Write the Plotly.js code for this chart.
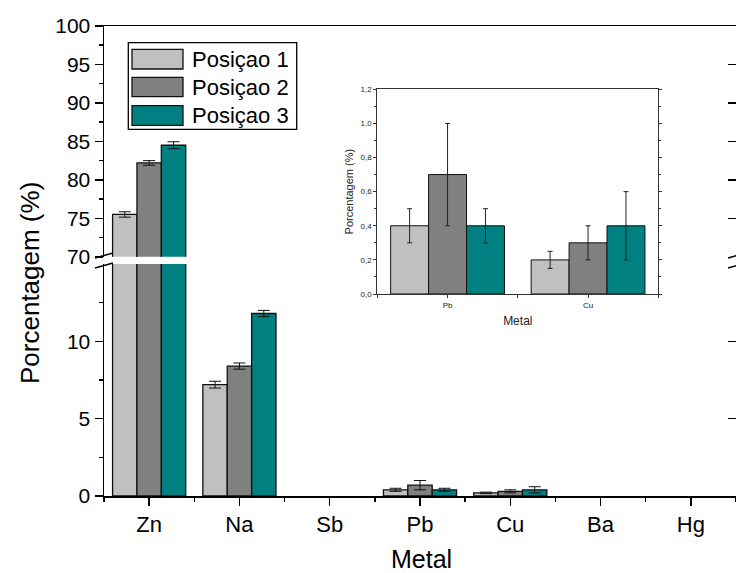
<!DOCTYPE html>
<html>
<head>
<meta charset="utf-8">
<script src="https://cdn.plot.ly/plotly-3.0.1.min.js"></script>
<style>html,body{margin:0;padding:0;background:#fff;}#chart{width:736px;height:573px;}</style>
</head>
<body>
<div id="chart"></div>
<script>
// ---- data ----
const categories = ['Zn', 'Na', 'Sb', 'Pb', 'Cu', 'Ba', 'Hg'];
const seriesNames = ['Posiçao 1', 'Posiçao 2', 'Posiçao 3'];
const pos1 = [75.5, 7.2, 0, 0.4, 0.2, 0, 0];
const pos2 = [82.2, 8.4, 0, 0.7, 0.3, 0, 0];
const pos3 = [84.5, 11.8, 0, 0.4, 0.4, 0, 0];
const err1 = [0.35, 0.22, 0, 0.1, 0.05, 0, 0];
const err2 = [0.3, 0.2, 0, 0.3, 0.1, 0, 0];
const err3 = [0.45, 0.2, 0, 0.1, 0.2, 0, 0];
const insetCategories = ['Pb', 'Cu'];
const insetPos1 = [0.4, 0.2];
const insetPos2 = [0.7, 0.3];
const insetPos3 = [0.4, 0.4];
const insetErr1 = [0.1, 0.05];
const insetErr2 = [0.3, 0.1];
const insetErr3 = [0.1, 0.2];
const lowerTicks = [0, 5, 10];
const upperTicks = [70, 75, 80, 85, 90, 95, 100];

// ---- styling ----
const colors = ['#C0C0C0', '#808080', '#008080'];
const FONT = 'Arial, "Liberation Sans", Helvetica, sans-serif';
const W = 736, H = 573, ML = 104, MR = 0, MT = 26, MB = 77;
const PW = W - ML - MR, PH = H - MT - MB;
const px = v => (v - ML) / PW;      // pixel -> paper x
const py = v => (H - MB - v) / PH;  // pixel -> paper y

const xs = categories.map((_, i) => i);
const xsInset = insetCategories.map((_, i) => i);
const vals = [pos1, pos2, pos3];
const errs = [err1, err2, err3];
const ivals = [insetPos1, insetPos2, insetPos3];
const ierrs = [insetErr1, insetErr2, insetErr3];

const traces = [];
[['x', 'y'], ['x2', 'y2']].forEach(([xa, ya]) => {
  vals.forEach((v, k) => {
    const keep = v.map(d => d > 0);   // zero values (not detected) are not drawn
    traces.push({
      type: 'bar', x: xs.filter((_, i) => keep[i]), y: v.filter((_, i) => keep[i]),
      name: seriesNames[k], xaxis: xa, yaxis: ya,
      showlegend: false, hoverinfo: 'skip',
      marker: {color: colors[k], line: {color: '#111', width: 1.3}},
      error_y: {type: 'data', array: errs[k].filter((_, i) => keep[i]), visible: true, color: '#111', thickness: 1, width: 6}
    });
  });
});
ivals.forEach((v, k) => {
  traces.push({
    type: 'bar', x: xsInset, y: v, name: seriesNames[k], xaxis: 'x3', yaxis: 'y3',
    showlegend: false, hoverinfo: 'skip',
    marker: {color: colors[k], line: {color: '#111', width: 1}},
    error_y: {type: 'data', array: ierrs[k], visible: true, color: '#222', thickness: 1, width: 2.5}
  });
});
// helpers for right-side inward ticks
traces.push({type: 'scatter', x: [], y: [], xaxis: 'x', yaxis: 'y4', showlegend: false});
traces.push({type: 'scatter', x: [], y: [], xaxis: 'x2', yaxis: 'y5', showlegend: false});

const lowerTop = 0.4936, upperBottom = 0.509;
const axisBase = {showgrid: false, zeroline: false, showline: true, linecolor: '#000', linewidth: 1.5,
  tickcolor: '#000', tickwidth: 1.5, tickfont: {family: FONT, size: 21, color: '#000'}};

const shapes = [];
const annotations = [];
// axis break marks
[[258, 253], [268, 263]].forEach(([a, b]) => {
  shapes.push({type: 'line', xref: 'paper', yref: 'paper', x0: px(95), y0: py(a), x1: px(113), y1: py(b), line: {color: '#000', width: 1.5}});
  shapes.push({type: 'line', xref: 'paper', yref: 'paper', x0: px(728), y0: py(a), x1: px(746), y1: py(b), line: {color: '#000', width: 1.5}});
});
// legend
shapes.push({type: 'rect', xref: 'paper', yref: 'paper', x0: px(128.3), x1: px(296.7), y0: py(129.3), y1: py(42.7), line: {color: '#000', width: 1.3}, fillcolor: '#fff'});
[[49.3, 69], [77.3, 96.7], [105.7, 125.3]].forEach(([t, b], k) => {
  shapes.push({type: 'rect', xref: 'paper', yref: 'paper', x0: px(132), x1: px(183), y0: py(b), y1: py(t), line: {color: '#111', width: 1.3}, fillcolor: colors[k]});
  annotations.push({xref: 'paper', yref: 'paper', x: px(190), y: py((t + b) / 2), xanchor: 'left', yanchor: 'middle', showarrow: false,
    text: seriesNames[k], font: {family: FONT, size: 22, color: '#000'}});
});
// main axis titles
annotations.push({xref: 'paper', yref: 'paper', x: px(30), y: py(283), xanchor: 'center', yanchor: 'middle', showarrow: false,
  textangle: -90, text: 'Porcentagem (%)', font: {family: FONT, size: 26, color: '#000'}});
annotations.push({xref: 'paper', yref: 'paper', x: px(421), y: py(575), xanchor: 'center', yanchor: 'bottom', showarrow: false,
  text: 'Metal', font: {family: FONT, size: 25, color: '#000'}});

const layout = {
  width: W, height: H,
  margin: {l: ML, r: MR, t: MT, b: MB, pad: 0},
  paper_bgcolor: '#fff', plot_bgcolor: 'rgba(0,0,0,0)',
  barmode: 'group', bargap: 0.19, bargroupgap: 0,
  separators: ',.',
  showlegend: false,
  font: {family: FONT, color: '#000'},
  xaxis: Object.assign({}, axisBase, {
    domain: [0, 1], anchor: 'y', range: [-0.5, 6.5],
    tickmode: 'array', tickvals: xs, ticktext: categories, ticks: 'outside', ticklen: 8,
    tickfont: {family: FONT, size: 22, color: '#000'},
    minor: {tickmode: 'linear', tick0: 0.5, dtick: 1, ticks: 'outside', ticklen: 4, tickwidth: 1.5, tickcolor: '#000'}
  }),
  xaxis2: Object.assign({}, axisBase, {
    domain: [0, 1], anchor: 'y2', matches: 'x', side: 'top', ticks: '', showticklabels: false
  }),
  yaxis: Object.assign({}, axisBase, {
    domain: [0, lowerTop], anchor: 'x', range: [0, 15],
    tickmode: 'array', tickvals: lowerTicks, ticks: 'outside', ticklen: 8,
    minor: {tickmode: 'linear', tick0: 2.5, dtick: 5, ticks: 'outside', ticklen: 4, tickwidth: 1.5, tickcolor: '#000'}
  }),
  yaxis2: Object.assign({}, axisBase, {
    domain: [upperBottom, 1], anchor: 'x2', range: [70, 100],
    tickmode: 'array', tickvals: upperTicks, ticks: 'outside', ticklen: 8,
    minor: {tickmode: 'linear', tick0: 72.5, dtick: 5, ticks: 'outside', ticklen: 4, tickwidth: 1.5, tickcolor: '#000'}
  }),
  yaxis4: {overlaying: 'y', side: 'right', anchor: 'x', range: [0, 15], showline: false, showgrid: false, zeroline: false,
    tickmode: 'array', tickvals: [5, 10], ticks: 'inside', ticklen: 8, tickwidth: 1.5, tickcolor: '#000', showticklabels: false},
  yaxis5: {overlaying: 'y2', side: 'right', anchor: 'x2', range: [70, 100], showline: false, showgrid: false, zeroline: false,
    tickmode: 'array', tickvals: [75, 80, 85, 90, 95], ticks: 'inside', ticklen: 8, tickwidth: 1.5, tickcolor: '#000', showticklabels: false},
  xaxis3: {
    domain: [px(377.3), px(658.3)], anchor: 'y3', range: [-0.5, 1.5],
    showgrid: false, zeroline: false, showline: true, mirror: true, linecolor: '#333', linewidth: 1,
    tickmode: 'array', tickvals: xsInset, ticktext: insetCategories, ticks: 'outside', ticklen: 3, tickcolor: '#333', tickwidth: 1,
    minor: {tickmode: 'linear', tick0: 0.5, dtick: 1, ticks: 'outside', ticklen: 3, tickcolor: '#333', tickwidth: 1},
    tickfont: {family: FONT, size: 8, color: '#222'},
    title: {text: 'Metal', font: {family: FONT, size: 12, color: '#222'}, standoff: 8}
  },
  yaxis3: {
    domain: [py(294), py(89.3)], anchor: 'x3', range: [0, 1.2],
    showgrid: false, zeroline: false, showline: true, mirror: 'allticks', linecolor: '#333', linewidth: 1,
    tickmode: 'linear', tick0: 0, dtick: 0.2, tickformat: '.1f', ticks: 'outside', ticklen: 3, tickcolor: '#333', tickwidth: 1,
    minor: {tickmode: 'linear', tick0: 0.1, dtick: 0.2, ticks: 'outside', ticklen: 2, tickcolor: '#333', tickwidth: 1},
    tickfont: {family: FONT, size: 8, color: '#222'},
    title: {text: 'Porcentagem (%)', font: {family: FONT, size: 11, color: '#222'}, standoff: 4}
  },
  shapes: shapes,
  annotations: annotations
};

Plotly.newPlot('chart', traces, layout, {staticPlot: true, displayModeBar: false});
</script>
</body>
</html>
